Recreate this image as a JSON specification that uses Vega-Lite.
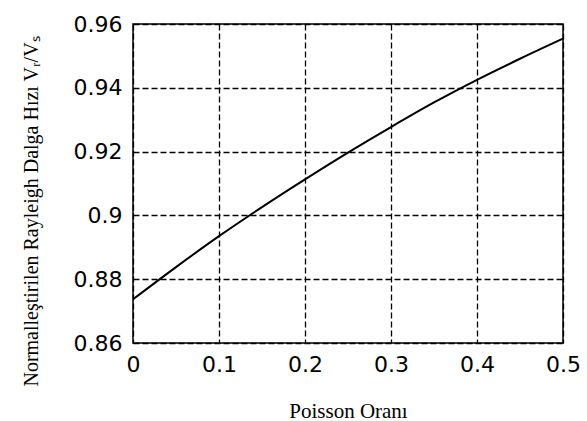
{
  "$schema": "https://vega.github.io/schema/vega-lite/v6.json",
  "width": 430,
  "height": 319,
  "autosize": {"type": "none"},
  "padding": {"left": 133, "top": 24, "right": 24, "bottom": 78},
  "background": "white",
  "data": {
    "values": [
      {"nu": 0.0, "v": 0.8737},
      {"nu": 0.05, "v": 0.8838},
      {"nu": 0.1, "v": 0.8935},
      {"nu": 0.15, "v": 0.9026},
      {"nu": 0.2, "v": 0.9113},
      {"nu": 0.25, "v": 0.9197},
      {"nu": 0.3, "v": 0.9277},
      {"nu": 0.35, "v": 0.9354},
      {"nu": 0.4, "v": 0.9425},
      {"nu": 0.45, "v": 0.9491},
      {"nu": 0.5, "v": 0.9554}
    ]
  },
  "mark": {"type": "line", "color": "black", "strokeWidth": 2, "interpolate": "monotone"},
  "encoding": {
    "x": {
      "field": "nu",
      "type": "quantitative",
      "scale": {"domain": [0, 0.5], "nice": false, "zero": false},
      "axis": {
        "values": [0, 0.1, 0.2, 0.3, 0.4, 0.5],
        "format": "~g",
        "title": "Poisson Oranı",
        "titleFont": "Liberation Serif",
        "titleFontSize": 21,
        "titleFontWeight": "normal",
        "titleColor": "black",
        "titleBaseline": "alphabetic",
        "titleY": 74,
        "labelFont": "DejaVu Sans",
        "labelFontSize": 22,
        "labelColor": "black",
        "labelPadding": 11,
        "labelFlush": false,
        "ticks": false,
        "domain": false,
        "grid": true,
        "gridColor": "black",
        "gridOpacity": 1,
        "gridWidth": 1.3,
        "gridDash": [6, 3]
      }
    },
    "y": {
      "field": "v",
      "type": "quantitative",
      "scale": {"domain": [0.86, 0.96], "nice": false, "zero": false},
      "axis": {
        "values": [0.86, 0.88, 0.9, 0.92, 0.94, 0.96],
        "format": "~g",
        "title": "Normalleştirilen Rayleigh Dalga Hızı  Vᵣ/Vₛ",
        "titleFont": "Liberation Serif",
        "titleFontSize": 20,
        "titleFontWeight": "normal",
        "titleColor": "black",
        "titleAngle": -90,
        "titleBaseline": "alphabetic",
        "titleX": -96,
        "titleY": 187,
        "labelFont": "DejaVu Sans",
        "labelFontSize": 22,
        "labelColor": "black",
        "labelPadding": 11,
        "labelFlush": false,
        "ticks": false,
        "domain": false,
        "grid": true,
        "gridColor": "black",
        "gridOpacity": 1,
        "gridWidth": 1.3,
        "gridDash": [6, 3]
      }
    }
  },
  "config": {
    "view": {"stroke": "black", "strokeWidth": 1.5}
  }
}
